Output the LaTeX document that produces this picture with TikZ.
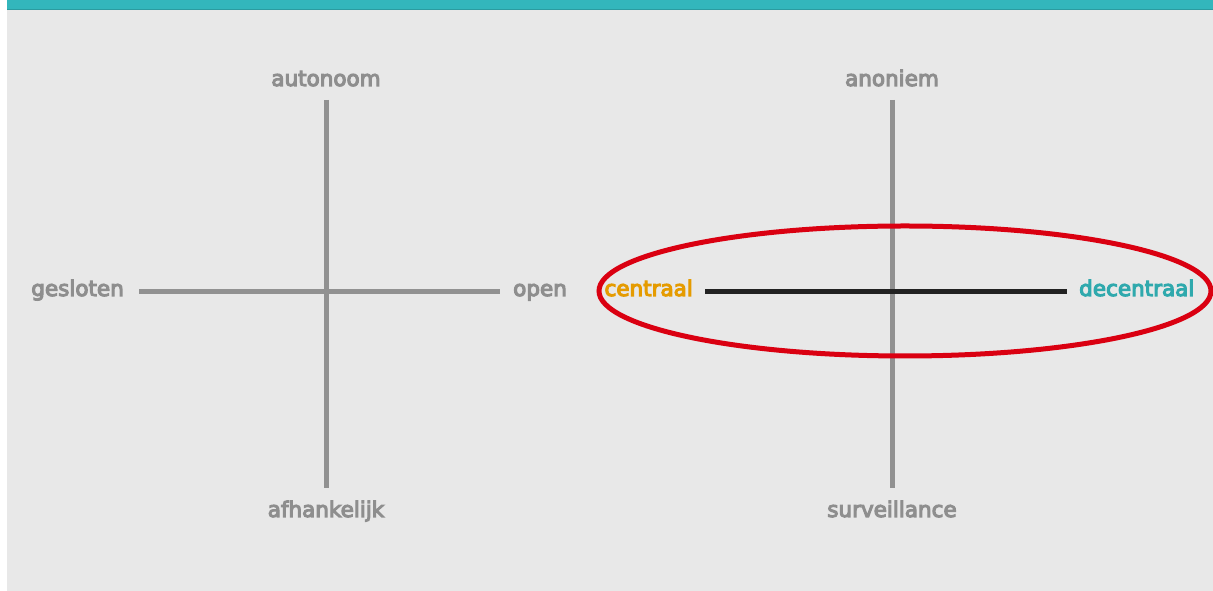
\documentclass[tikz,border=0pt]{standalone}
\usepackage{fontspec}
\newfontfamily\lblfont{DejaVu Sans}[FakeBold=5]
\usepackage{xcolor}
\definecolor{bggrey}{HTML}{E8E8E8}
\definecolor{topteal}{HTML}{33B6BC}
\definecolor{axisgrey}{HTML}{919191}
\definecolor{labelgrey}{HTML}{8E8E8E}
\definecolor{axisblack}{HTML}{222222}
\definecolor{centorange}{HTML}{E59B00}
\definecolor{decteal}{HTML}{2FA9AD}
\definecolor{ringred}{HTML}{DA0011}

\begin{document}
\begin{tikzpicture}[x=1pt,y=1pt,
    axis/.style={line width=5pt,draw=axisgrey},
    lbl/.style={font=\lblfont\fontsize{21.5}{24}\selectfont,text=labelgrey,inner sep=0pt}]
    \useasboundingbox (0,0) rectangle (1213,591);
    \fill[bggrey] (7,0) rectangle (1213,591);
    \fill[topteal] (7,581) rectangle (1213,591);
    \draw[topteal!85!black,line width=1pt] (7,581) -- (1213,581);
    % left cross
    \coordinate (ltop) at (326,491);
    \coordinate (lbot) at (326,103);
    \coordinate (lleft) at (139,299);
    \coordinate (lright) at (500,299);
    \draw[axis] (ltop) -- (lbot);
    \draw[axis] (lleft) -- (lright);
    \node[lbl,anchor=base] (autonoom) at (326,505) {autonoom};
    \node[lbl,anchor=base] (afhankelijk) at (326,74) {afhankelijk};
    \node[lbl,anchor=base east] (gesloten) at (124,295) {gesloten};
    \node[lbl,anchor=base west] (open) at (513,295) {open};
    % right cross
    \coordinate (rtop) at (892,491);
    \coordinate (rbot) at (892,103);
    \coordinate (rleft) at (705,299);
    \coordinate (rright) at (1067,299);
    \draw[axis] (rtop) -- (rbot);
    \draw[line width=5pt,draw=axisblack] (rleft) -- (rright);
    \node[lbl,anchor=base] (anoniem) at (892,505) {anoniem};
    \node[lbl,anchor=base] (surveillance) at (892,74) {surveillance};
    \node[lbl,anchor=base east,text=centorange] (centraal) at (693,295) {centraal};
    \node[lbl,anchor=base west,text=decteal] (decentraal) at (1079,295) {decentraal};
    % red ring
    \draw[ringred,line width=5pt] (905,300) ellipse (306 and 65);
\end{tikzpicture}
\end{document}
